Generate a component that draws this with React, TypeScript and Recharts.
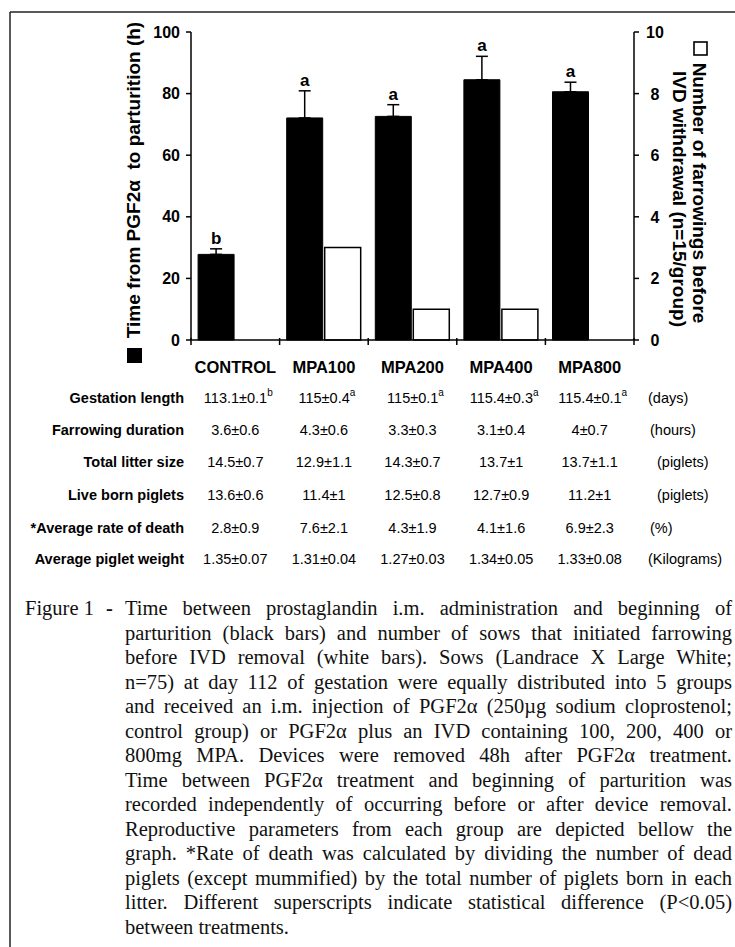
import React from 'react';
import { BarChart, Bar, XAxis, YAxis, ErrorBar, LabelList } from 'recharts';

const groups = ['CONTROL', 'MPA100', 'MPA200', 'MPA400', 'MPA800'];
const hoursToParturition = [27.8, 72.1, 72.6, 84.5, 80.6];
const hoursSem = [1.8, 8.8, 3.8, 7.6, 3.1];
const hoursLetters = ['b', 'a', 'a', 'a', 'a'];
const farrowingsBeforeRemoval = [0, 3, 1, 1, 0];
const hoursTicks = [0, 20, 40, 60, 80, 100];
const countTicks = [0, 2, 4, 6, 8, 10];

const rowLabels = [
  'Gestation length',
  'Farrowing duration',
  'Total litter size',
  'Live born piglets',
  '*Average rate of death',
  'Average piglet weight',
];
const rowUnits = ['(days)', '(hours)', '(piglets)', '(piglets)', '(%)', '(Kilograms)'];
const gestationLength = ['113.1±0.1', '115±0.4', '115±0.1', '115.4±0.3', '115.4±0.1'];
const gestationLetters = ['b', 'a', 'a', 'a', 'a'];
const farrowingDuration = ['3.6±0.6', '4.3±0.6', '3.3±0.3', '3.1±0.4', '4±0.7'];
const totalLitterSize = ['14.5±0.7', '12.9±1.1', '14.3±0.7', '13.7±1', '13.7±1.1'];
const liveBornPiglets = ['13.6±0.6', '11.4±1', '12.5±0.8', '12.7±0.9', '11.2±1'];
const rateOfDeath = ['2.8±0.9', '7.6±2.1', '4.3±1.9', '4.1±1.6', '6.9±2.3'];
const pigletWeight = ['1.35±0.07', '1.31±0.04', '1.27±0.03', '1.34±0.05', '1.33±0.08'];

const captionLines = [
  'Time between prostaglandin i.m. administration and beginning of',
  'parturition (black bars) and number of sows that initiated farrowing',
  'before IVD removal (white bars). Sows (Landrace X Large White;',
  'n=75) at day 112 of gestation were equally distributed into 5 groups',
  'and received an i.m. injection of PGF2α (250µg sodium cloprostenol;',
  'control group) or PGF2α plus an IVD containing 100, 200, 400 or',
  '800mg MPA. Devices were removed 48h after PGF2α treatment.',
  'Time between PGF2α treatment and beginning of parturition was',
  'recorded independently of occurring before or after device removal.',
  'Reproductive parameters from each group are depicted bellow the',
  'graph. *Rate of death was calculated by dividing the number of dead',
  'piglets (except mummified) by the total number of piglets born in each',
  'litter. Different superscripts indicate statistical difference (P<0.05)',
  'between treatments.',
];

const data = groups.map((g, i) => ({
  group: g,
  hours: hoursToParturition[i],
  err: [0, hoursSem[i]],
  cap: hoursSem[i],
  letter: hoursLetters[i],
  count: farrowingsBeforeRemoval[i],
}));

const tableRows = [gestationLength, farrowingDuration, totalLitterSize, liveBornPiglets, rateOfDeath, pigletWeight];

const SANS = '"Liberation Sans", Arial, Helvetica, sans-serif';
const SERIF = '"Liberation Serif", "Times New Roman", serif';

// plot geometry
const W = 735;
const CH = 390;
const PLOT_LEFT = 191;
const PLOT_RIGHT = 634;
const PLOT_TOP = 32;
const PLOT_BOTTOM = 340;

const GroupTick = (props: any) => {
  const { x, y, payload, index } = props;
  const count = props.visibleTicksCount || groups.length;
  const band = (props.width || PLOT_RIGHT - PLOT_LEFT) / count;
  const axisY = y - 18;
  const left = x - band / 2;
  return (
    <g>
      <line x1={left} x2={left} y1={axisY - 2} y2={axisY + 5} stroke="#000" strokeWidth={1.5} />
      {index === count - 1 && (
        <line x1={x + band / 2} x2={x + band / 2} y1={axisY - 2} y2={axisY + 5} stroke="#000" strokeWidth={1.5} />
      )}
      <text x={x} y={axisY + 33} textAnchor="middle" fontSize={16.5} fontWeight="bold" fill="#000" fontFamily={SANS}>
        {payload.value}
      </text>
    </g>
  );
};

const CountTick = (props: any) => {
  const { x, y, payload } = props;
  return (
    <text x={x + 13} y={y + 6} textAnchor="middle" fontSize={16} fontWeight="bold" fill="#000" fontFamily={SANS}>
      {payload.value}
    </text>
  );
};

const LeftTitle = (props: any) => {
  const vb = props.viewBox || { x: 0, y: PLOT_TOP, width: PLOT_LEFT, height: PLOT_BOTTOM - PLOT_TOP };
  const bx = vb.x + vb.width - 51;
  const cy = vb.y + 148;
  return (
    <g>
      <text
        transform={`translate(${bx},${cy}) rotate(-90)`}
        textAnchor="middle"
        fontSize={19}
        fontWeight="bold"
        fill="#000"
        fontFamily={SANS}
        style={{ whiteSpace: 'pre' }}
      >
        {'Time from PGF2α  to parturition (h)'}
      </text>
      <rect x={bx - 13} y={vb.y + vb.height + 8} width={15} height={15} fill="#000" />
    </g>
  );
};

const RightTitle = (props: any) => {
  const vb = props.viewBox || { x: PLOT_RIGHT, y: PLOT_TOP, width: W - PLOT_RIGHT, height: PLOT_BOTTOM - PLOT_TOP };
  return (
    <g fontFamily={SANS} fontWeight="bold" fontSize={19} fill="#000">
      <rect x={vb.x + 60} y={vb.y + 10} width={13} height={13} fill="#fff" stroke="#000" strokeWidth={1.6} />
      <text transform={`translate(${vb.x + 59},${vb.y + 161}) rotate(90)`} textAnchor="middle">
        Number of farrowings before
      </text>
      <text transform={`translate(${vb.x + 39},${vb.y + 167}) rotate(90)`} textAnchor="middle">
        IVD withdrawal (n=15/group)
      </text>
    </g>
  );
};

const unitX = [648, 650, 657, 657, 650, 648];
const rowY = [398, 430, 462, 495, 528, 559];

export default function App() {
  const band = (PLOT_RIGHT - PLOT_LEFT) / groups.length;
  const colX = groups.map((_, i) => PLOT_LEFT + band * (i + 0.5));
  return (
    <div style={{ position: 'relative', width: W, height: 947, background: '#fff', overflow: 'hidden' }}>
      <style>{'body{margin:0}'}</style>
      <div style={{ position: 'absolute', left: 0, top: 0 }}>
        <BarChart
          width={W}
          height={CH}
          data={data}
          margin={{ top: PLOT_TOP, right: 0, bottom: 10, left: 0 }}
          barCategoryGap="8%"
          barGap={2}
        >
          <XAxis
            dataKey="group"
            height={CH - 10 - PLOT_BOTTOM}
            axisLine={{ stroke: '#000', strokeWidth: 1.5 }}
            tickLine={false}
            tickSize={0}
            tickMargin={18}
            interval={0}
            tick={GroupTick}
          />
          <YAxis
            yAxisId="h"
            orientation="left"
            width={PLOT_LEFT}
            domain={[0, 100]}
            ticks={hoursTicks}
            interval={0}
            tickSize={5}
            tickMargin={6}
            axisLine={{ stroke: '#000', strokeWidth: 1.5 }}
            tickLine={{ stroke: '#000', strokeWidth: 1.5 }}
            tick={{ fill: '#000', fontSize: 16, fontWeight: 'bold', fontFamily: SANS }}
            label={{ content: LeftTitle }}
          />
          <YAxis
            yAxisId="n"
            orientation="right"
            width={W - PLOT_RIGHT}
            domain={[0, 10]}
            ticks={countTicks}
            interval={0}
            tickSize={5}
            tickMargin={3}
            axisLine={{ stroke: '#000', strokeWidth: 1.5 }}
            tickLine={{ stroke: '#000', strokeWidth: 1.5 }}
            tick={CountTick}
            label={{ content: RightTitle }}
          />
          <Bar yAxisId="h" dataKey="hours" stackId="h" fill="#000" stroke="#000" strokeWidth={1} isAnimationActive={false}>
            <ErrorBar dataKey="err" width={6} stroke="#000" strokeWidth={1.5} direction="y" />
          </Bar>
          <Bar yAxisId="h" dataKey="cap" stackId="h" fill="none" isAnimationActive={false}>
            <LabelList dataKey="letter" position="top" offset={5} fill="#000" fontSize={17} fontWeight="bold" fontFamily={SANS} />
          </Bar>
          <Bar yAxisId="n" dataKey="count" fill="#fff" stroke="#000" strokeWidth={1.5} isAnimationActive={false} />
        </BarChart>
      </div>

      <svg width={W} height={947} style={{ position: 'absolute', left: 0, top: 0, pointerEvents: 'none' }}>
        <line x1={10} x2={W} y1={12} y2={12} stroke="#222" strokeWidth={1.5} />
        <line x1={10} x2={10} y1={12} y2={947} stroke="#222" strokeWidth={1.5} />
        <g fontFamily={SANS} fontSize={14.5} fill="#000">
          {rowLabels.map((lab, r) => (
            <text key={lab} x={184} y={rowY[r] + 5} textAnchor="end" fontWeight="bold">
              {lab}
            </text>
          ))}
          {tableRows.map((row, r) =>
            row.map((v, c) => (
              <text key={`${r}-${c}`} x={colX[c] + (r === 0 ? 3 : 0)} y={rowY[r] + 5} textAnchor="middle">
                {v}
                {r === 0 && (
                  <tspan fontSize={10} dy={-7}>
                    {gestationLetters[c]}
                  </tspan>
                )}
              </text>
            ))
          )}
          {rowUnits.map((u, r) => (
            <text key={`u${r}`} x={unitX[r]} y={rowY[r] + 5}>
              {u}
            </text>
          ))}
        </g>
      </svg>

      <div style={{ position: 'absolute', left: 0, top: 596, fontFamily: SERIF, fontSize: 20.5, lineHeight: '24.5px', color: '#111' }}>
        <div style={{ position: 'absolute', left: 25, top: 0, whiteSpace: 'nowrap' }}>Figure 1</div>
        <div style={{ position: 'absolute', left: 106, top: 0, fontWeight: 'bold' }}>-</div>
        <div style={{ position: 'absolute', left: 125, top: 0, width: 607 }}>
          {captionLines.map((line, i) => {
            const last = i === captionLines.length - 1;
            return (
              <div
                key={i}
                style={{ textAlign: last ? 'left' : 'justify', textAlignLast: last ? 'left' : 'justify' } as React.CSSProperties}
              >
                {line}
              </div>
            );
          })}
        </div>
      </div>
    </div>
  );
}
